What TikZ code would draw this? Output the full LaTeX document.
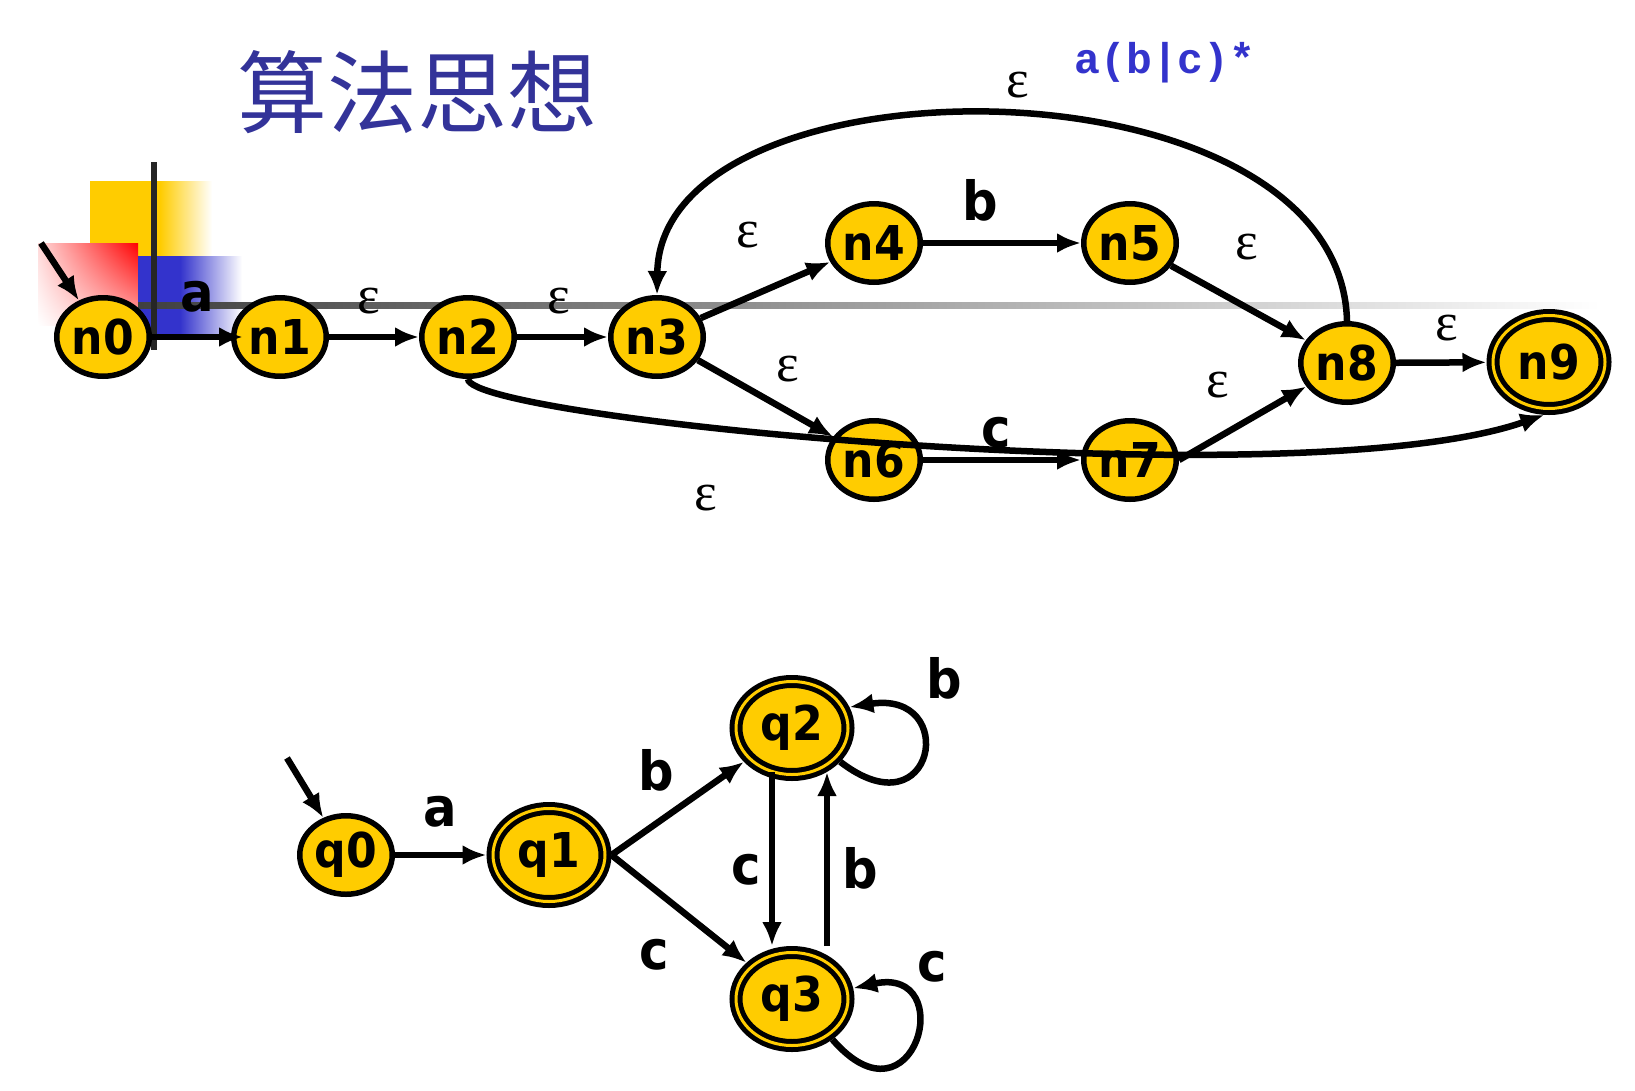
\documentclass[tikz,border=0pt]{standalone}
\usepackage{fontspec}
\usepackage{tikz}
\usetikzlibrary{shapes}
\usetikzlibrary{calc}
\usetikzlibrary{shadings}
\usetikzlibrary{arrows.meta}
\setmainfont{DejaVu Sans}
\newfontfamily\statefont{DejaVu Sans}[FakeStretch=0.92]
\newfontfamily\epsfont{Liberation Serif}
\newfontfamily\regexfont{Liberation Mono}
\newfontfamily\cjkfont{Noto Sans CJK SC}
\definecolor{stateyellow}{HTML}{FFCC00}
\definecolor{titleblue}{HTML}{333399}
\definecolor{regexblue}{HTML}{3333CC}
\tikzset{vertex/.style={ellipse, draw, line width=5.5pt, fill=stateyellow, inner sep=0pt, outer sep=2.75pt, minimum width=92.5pt, minimum height=78.5pt, font=\statefont\fontsize{48}{48}\selectfont\bfseries}}
\tikzset{final/.style={vertex, line width=5pt, double=stateyellow, double distance=3pt, outer sep=6.5pt, minimum width=112pt, minimum height=93pt}}
\tikzset{trans/.style={line width=6.5pt, -{Latex[length=24pt,width=20pt]}}}
\tikzset{sym/.style={font=\statefont\fontsize{54}{54}\selectfont\bfseries, inner sep=0pt}}
\tikzset{eps/.style={font=\epsfont\fontsize{54}{54}\selectfont, inner sep=0pt}}

\begin{document}
\begin{tikzpicture}[x=1pt,y=-1pt]
  \useasboundingbox (0,0) rectangle (1635,1090);
  % slide corner
  \fill[stateyellow] (90,181) rectangle (160,256);
  \shade[left color=stateyellow, right color=white] (160,181) rectangle (212,256);
  \shade[upper right=red, upper left=red!15, lower right=red!30, lower left=white] (38,243) rectangle (138,325);
  \fill[regexblue] (138,256) rectangle (180,336);
  \shade[left color=regexblue, right color=white] (180,256) rectangle (242,336);
  \shade[left color=black!75, right color=white] (138,302.7) rectangle (1600,308.3);
  \draw[line width=5.3pt, black!85] (154,162) -- (154,350);

  \node[text=titleblue, font=\cjkfont\fontsize{90}{90}\selectfont] (title) at (417,92) {算法思想};
  \node[text=regexblue, font=\regexfont\bfseries\fontsize{43}{43}\selectfont] (regex) at (1165,63) {a(b|c)*};

  \foreach \x/\y/\lab in {
    103/337/n0,
    280/337/n1,
    468/337/n2,
    657/337/n3,
    874/243/n4,
    1130/243/n5,
    874/460/n6,
    1130/460/n7,
    1347/363/n8,
    346/855/q0%
  } {
    \node[vertex] (\lab) at (\x,\y) {\lab};
  }
  \foreach \x/\y/\lab in {1549/362/n9, 549/855/q1, 792/728/q2, 792/999/q3} {
    \node[final] (\lab) at (\x,\y) {\lab};
  }
  \coordinate (s0) at (41,243);
  \coordinate (s1) at (287,758);

  \draw[trans] (s0) -- (n0);
  \draw[trans] (s1) -- (q0);
  \draw[trans] (n0) -- node[sym, above=21pt] {a} ([xshift=12pt]n1.west);
  \foreach \u/\v/\d/\dx in {
    n1/n2/19.5/-5,
    n2/n3/19.5/-4,
    n3/n4/39/-18,
    n5/n8/40/8,
    n3/n6/13.5/22,
    n7.east/n8/22/-25,
    n8/n9/18.5/6%
  }{
    \draw[trans] (\u) -- node[eps, above=\d pt, xshift=\dx pt] {ε} (\v);
  }
  \draw[trans] (n4) -- node[sym, above=18pt, xshift=-22pt] {b} (n5);
  \draw[trans] (n6) -- node[sym, above=8pt, xshift=-6pt] {c} (n7);
  \draw[trans] (n8.north) .. controls (1340,50) and (660,50) .. node[eps, above=13pt, xshift=17pt] {ε} (n3.north);
  \draw[trans] (n2.south) .. controls (470,420) and (1300,500) .. node[eps, pos=0.35, below=54pt, xshift=-8pt] {ε} (n9.265);

  \draw[trans] (q0) -- node[sym, above=24pt] {a} (q1);
  \draw[trans] (q1.east) -- node[sym, above=14pt, xshift=-21pt] {b} (q2);
  \draw[trans] (q1.east) -- node[sym, below=27pt, xshift=-25pt] {c} (q3);
  \draw[trans] ([xshift=-20pt,yshift=9pt]q2.south) -- node[sym, left=8pt, yshift=-11pt] {c} ([xshift=-20pt]q3.north);
  \draw[trans] ([xshift=35pt]q3.north) -- node[sym, right=12pt, yshift=-9pt] {b} ([xshift=35pt,yshift=9pt]q2.south);
  \draw[trans] (q2.-35) .. controls (935,835) and (960,690) .. node[sym, pos=0.6, anchor=south west, xshift=2pt, yshift=38pt] {b} (q2.20);
  \draw[trans] (q3.-45) .. controls (915,1135) and (960,965) .. node[sym, pos=0.75, anchor=south west, xshift=8pt, yshift=14pt] {c} (q3.10);
\end{tikzpicture}
\end{document}
